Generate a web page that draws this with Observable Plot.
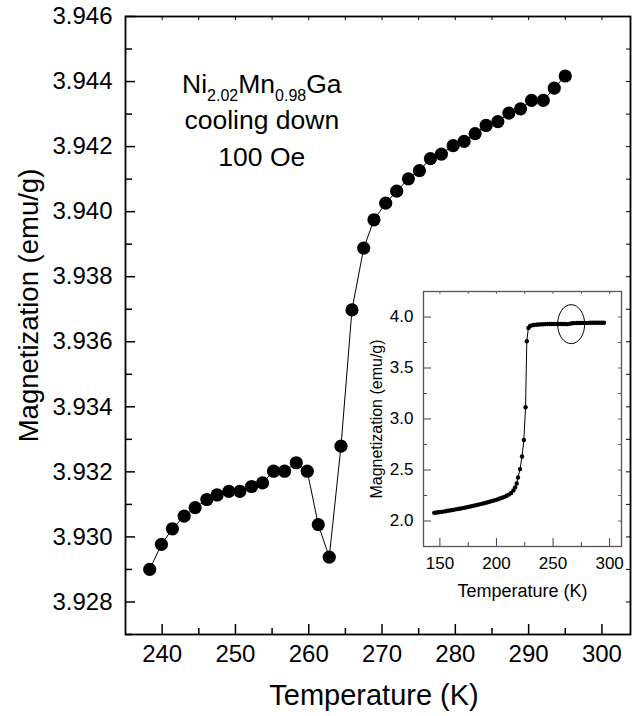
<!DOCTYPE html>
<html>
<head>
<meta charset="utf-8">
<script src="https://cdn.jsdelivr.net/npm/d3@7"></script>
<script src="https://cdn.jsdelivr.net/npm/@observablehq/plot@0.6"></script>
<style>
  body { margin: 0; background: #fff; }
  #chart { position: relative; width: 632px; height: 716px; }
  #inset { position: absolute; left: 355px; top: 285px; }
  svg { font-family: "Liberation Sans", Arial, Helvetica, sans-serif; }
</style>
</head>
<body>
<div id="chart"><div id="main"></div><div id="inset"></div></div>
<script>
// ---------------- data: main panel ----------------
const temperature = [238.3, 239.9, 241.4, 243.0, 244.5, 246.1, 247.5, 249.1, 250.6, 252.2,
  253.7, 255.2, 256.7, 258.3, 259.8, 261.3, 262.8, 264.4, 265.9, 267.5,
  268.9, 270.5, 272.0, 273.6, 275.1, 276.6, 278.1, 279.7, 281.2, 282.7,
  284.2, 285.8, 287.3, 288.9, 290.4, 292.0, 293.5, 295.0];
const magnetization = [3.92900, 3.92977, 3.93025, 3.93064, 3.93090, 3.93115, 3.93129, 3.93140, 3.93140, 3.93155,
  3.93166, 3.93202, 3.93202, 3.93228, 3.93202, 3.93038, 3.92938, 3.93279, 3.93698, 3.93888,
  3.93975, 3.94026, 3.94063, 3.94101, 3.94126, 3.94163, 3.94177, 3.94203, 3.94216, 3.94240,
  3.94265, 3.94277, 3.94303, 3.94316, 3.94342, 3.94342, 3.94380, 3.94417];
const xTickLabels = [240, 250, 260, 270, 280, 290, 300];
const xMinorTicks = [245, 255, 265, 275, 285, 295];
const xTopTicks = [240, 245, 250, 255, 260, 265, 270, 275, 280, 285, 290, 295, 300];
const yTickLabels = [3.928, 3.930, 3.932, 3.934, 3.936, 3.938, 3.940, 3.942, 3.944, 3.946];
const yMinorTicks = [3.927, 3.929, 3.931, 3.933, 3.935, 3.937, 3.939, 3.941, 3.943, 3.945];
const xTitle = "Temperature (K)";
const yTitle = "Magnetization (emu/g)";
const formula = "Ni2.02Mn0.98Ga";
const annotation = formula + "\ncooling down\n100 Oe";
const annotationAt = [{T: 253.6, M: 3.94446}];

// ---------------- data: inset ----------------
const insetTemperature = [145, 147, 149, 151, 153, 155, 157, 159, 161, 163, 165, 167, 169, 171, 173, 175,
  177, 179, 181, 183, 185, 187, 189, 191, 193, 195, 197, 199, 201, 203, 205, 207, 209, 211, 213, 215,
  216.5, 217.9, 219.0, 220.8, 222.6, 224.2, 225.7, 226.8, 228.2, 229.5,
  231, 233, 235, 237, 239, 241, 243, 245, 247, 249, 251, 253, 255, 257, 259, 261, 263, 265, 267, 269,
  271, 273, 275, 277, 279, 281, 283, 285, 287, 289, 291, 293, 295];
const insetMagnetization = [2.080, 2.083, 2.086, 2.089, 2.092, 2.096, 2.100, 2.104, 2.108, 2.112, 2.116, 2.120, 2.124, 2.129, 2.133, 2.138,
  2.143, 2.148, 2.153, 2.158, 2.163, 2.168, 2.174, 2.180, 2.186, 2.192, 2.198, 2.205, 2.212, 2.220, 2.228, 2.237, 2.247, 2.259, 2.274, 2.300,
  2.330, 2.367, 2.426, 2.509, 2.633, 2.794, 3.115, 3.762, 3.893, 3.910,
  3.918, 3.922, 3.924, 3.926, 3.928, 3.929, 3.930, 3.931, 3.931, 3.931, 3.931, 3.932, 3.932, 3.932, 3.932, 3.931, 3.930, 3.935, 3.938, 3.940,
  3.941, 3.941, 3.942, 3.942, 3.942, 3.942, 3.943, 3.943, 3.943, 3.943, 3.943, 3.944, 3.944];
const insetXTickLabels = [150, 200, 250, 300];
const insetXMinorTicks = [175, 225, 275];
const insetXTopTicks = [150, 175, 200, 225, 250, 275, 300];
const insetYTickLabels = [2.0, 2.5, 3.0, 3.5, 4.0];
const insetYMinorTicks = [2.25, 2.75, 3.25, 3.75];
const insetYRightTicks = [2.0, 2.25, 2.5, 2.75, 3.0, 3.25, 3.5, 3.75, 4.0];
const insetXTitle = "Temperature (K)";
const insetYTitle = "Magnetization (emu/g)";
const highlight = [{T: 266, M: 3.93}];

// ---------------- main chart ----------------
const mainData = temperature.map((t, i) => ({T: t, M: magnetization[i]}));
const W = 632, H = 716, mL = 125, mT = 16, mR = 2, mB = 82;
const ph = H - mT - mB, pw = W - mL - mR;
const font = "'Liberation Sans', Arial, Helvetica, sans-serif";

const main = Plot.plot({
  width: W, height: H,
  marginLeft: mL, marginTop: mT, marginRight: mR, marginBottom: mB,
  style: {fontFamily: font, background: "transparent", overflow: "visible", color: "black"},
  x: {domain: [235, 303.9]},
  y: {domain: [3.927, 3.946]},
  marks: [
    Plot.tickX(xTickLabels, {x: d => d, insetTop: ph - 10, strokeWidth: 1.5}),
    Plot.tickX(xMinorTicks, {x: d => d, insetTop: ph - 6, strokeWidth: 1.5}),
    Plot.tickX(xTopTicks, {x: d => d, insetBottom: ph - 4, strokeWidth: 1}),
    Plot.tickY(yTickLabels, {y: d => d, insetRight: pw - 10, strokeWidth: 1.5}),
    Plot.tickY(yMinorTicks, {y: d => d, insetRight: pw - 7, strokeWidth: 1.5}),
    Plot.tickY([...yTickLabels, ...yMinorTicks], {y: d => d, insetLeft: pw - 4, strokeWidth: 1}),
    Plot.frame({stroke: "black", strokeWidth: 1.8}),
    Plot.axisX(xTickLabels, {tickSize: 0, tickPadding: 10, fontSize: 24, label: null, tickFormat: d => String(d)}),
    Plot.axisY(yTickLabels, {tickSize: 0, tickPadding: 13, fontSize: 24, label: null, tickFormat: d3.format(".3f")}),
    Plot.text([xTitle], {frameAnchor: "bottom", dx: -4, dy: 70, text: d => d, fontSize: 29, textAnchor: "middle"}),
    Plot.text([yTitle], {frameAnchor: "left", dx: -96, dy: -20, rotate: -90, text: d => d, fontSize: 27.5, textAnchor: "middle"}),
    Plot.line(mainData, {x: "T", y: "M", stroke: "black", strokeWidth: 1}),
    Plot.dot(mainData, {x: "T", y: "M", r: 6.6, fill: "black", stroke: "none"}),
    Plot.text(annotationAt, {x: "T", y: "M", text: () => annotation, lineAnchor: "top", lineHeight: 1.38, fontSize: 26.5})
  ]
});
document.getElementById("main").appendChild(main);

// subscripts in the formula line (kept as real text)
d3.select(main).selectAll("text, tspan")
  .filter(function () { return this.childElementCount === 0 && this.textContent === formula; })
  .each(function () {
    const line = d3.select(this);
    line.text(null);
    const parts = [["Ni", false], ["2.02", true], ["Mn", false], ["0.98", true], ["Ga", false]];
    let shifted = false;
    for (const [s, sub] of parts) {
      const t = line.append("tspan").text(s);
      if (sub) { t.attr("font-size", 16); if (!shifted) { t.attr("dy", 8); shifted = true; } }
      else if (shifted) { t.attr("dy", -8); shifted = false; }
    }
  });

// ---------------- inset ----------------
const insetData = insetTemperature.map((t, i) => ({T: t, M: insetMagnetization[i]}));
const iW = 275, iH = 325, imL = 68, imT = 6, imR = 9, imB = 64;
const iph = iH - imT - imB, ipw = iW - imL - imR;
const ellipseSymbol = {
  draw(ctx) {
    const rx = 13.5, ry = 19.5, k = 0.5523;
    ctx.moveTo(rx, 0);
    ctx.bezierCurveTo(rx, ry * k, rx * k, ry, 0, ry);
    ctx.bezierCurveTo(-rx * k, ry, -rx, ry * k, -rx, 0);
    ctx.bezierCurveTo(-rx, -ry * k, -rx * k, -ry, 0, -ry);
    ctx.bezierCurveTo(rx * k, -ry, rx, -ry * k, rx, 0);
    ctx.closePath();
  }
};

const inset = Plot.plot({
  width: iW, height: iH,
  marginLeft: imL, marginTop: imT, marginRight: imR, marginBottom: imB,
  style: {fontFamily: font, background: "transparent", overflow: "visible", color: "black"},
  x: {domain: [135.5, 310.5]},
  y: {domain: [1.75, 4.25]},
  marks: [
    Plot.tickX(insetXTickLabels, {x: d => d, insetTop: iph - 8, stroke: "#444"}),
    Plot.tickX(insetXMinorTicks, {x: d => d, insetTop: iph - 4, stroke: "#444"}),
    Plot.tickX(insetXTopTicks, {x: d => d, insetBottom: iph - 3, stroke: "#666"}),
    Plot.tickY(insetYTickLabels, {y: d => d, insetRight: ipw - 8, stroke: "#444"}),
    Plot.tickY(insetYMinorTicks, {y: d => d, insetRight: ipw - 4, stroke: "#444"}),
    Plot.tickY(insetYRightTicks, {y: d => d, insetLeft: ipw - 3, stroke: "#666"}),
    Plot.frame({stroke: "#555", strokeWidth: 1.3}),
    Plot.axisX(insetXTickLabels, {tickSize: 0, tickPadding: 10, fontSize: 17, label: null, tickFormat: d => String(d)}),
    Plot.axisY(insetYTickLabels, {tickSize: 0, tickPadding: 10, fontSize: 17, label: null, tickFormat: d3.format(".1f")}),
    Plot.text([insetXTitle], {frameAnchor: "bottom", dy: 50, text: d => d, fontSize: 18, textAnchor: "middle"}),
    Plot.text([insetYTitle], {frameAnchor: "left", dx: -47, rotate: -90, text: d => d, fontSize: 16, textAnchor: "middle"}),
    Plot.line(insetData, {x: "T", y: "M", stroke: "black", strokeWidth: 1}),
    Plot.dot(insetData, {x: "T", y: "M", r: 2.2, fill: "black", stroke: "none"}),
    Plot.dot(highlight, {x: "T", y: "M", symbol: ellipseSymbol, fill: "none", stroke: "black", strokeWidth: 1})
  ]
});
document.getElementById("inset").appendChild(inset);
</script>
</body>
</html>
